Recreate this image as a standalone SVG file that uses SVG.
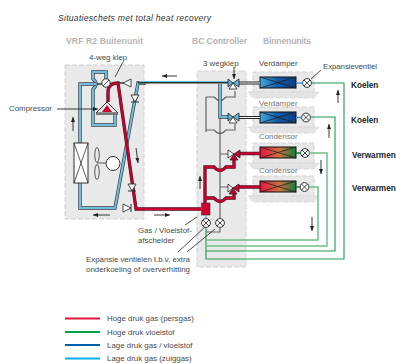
<svg xmlns="http://www.w3.org/2000/svg" width="396" height="363" viewBox="0 0 396 363">
<style>
text{font-family:"Liberation Sans","Noto Sans",sans-serif;font-size:7.9px;fill:#4a4a4a}
.h{font-weight:bold;font-size:8.6px;fill:#b4b4b4}
.b{font-weight:bold;font-size:8.2px;fill:#222}
.g{fill:#777}
.box{fill:#e9e9e9;stroke:#d2d2d2;stroke-width:1;stroke-dasharray:5 2}
.tr{fill:#e4e4e4;stroke:#d6d6d6;stroke-width:.8;stroke-dasharray:5 2}
.o{fill:none;stroke:#3a3f44;stroke-width:3.4}
.bl{fill:none;stroke:#72bcdc;stroke-width:2}
.ro{fill:none;stroke:#3a2028;stroke-width:3.3}
.rd{fill:none;stroke:#c4002f;stroke-width:2.3}
.gy{fill:none;stroke:#666;stroke-width:1.2}
.gr{fill:none;stroke:#1f9a55;stroke-width:1.1}
.gl{fill:none;stroke:#6fc08a;stroke-width:1.5}
.ld{fill:none;stroke:#222;stroke-width:.8}
.ar{fill:none;stroke:#222;stroke-width:.9;marker-end:url(#a)}
.x{fill:#fff;stroke:#333;stroke-width:1}
.cv{fill:#fff;stroke:#333;stroke-width:.9}
</style>
<defs>
<marker id="a" markerWidth="6" markerHeight="5" refX="5" refY="2" orient="auto" markerUnits="userSpaceOnUse"><path d="M0 0L5 2L0 4Z" fill="#222"/></marker>
<linearGradient id="cb"><stop offset="0" stop-color="#45a8e0"/><stop offset=".5" stop-color="#0f5aa5"/><stop offset="1" stop-color="#0b3f85"/></linearGradient>
<linearGradient id="cr"><stop offset="0" stop-color="#e8143c"/><stop offset=".55" stop-color="#c9733f"/><stop offset="1" stop-color="#127a3a"/></linearGradient>
<g id="ev"><circle r="4.4" class="x"/><path d="M-3-3L3 3M-3 3L3-3" stroke="#333" stroke-width=".9"/></g>
</defs>
<text x="58" y="21" style="font-style:italic;font-size:8.600px;fill:#333" textLength="153">Situatieschets met total heat recovery</text>
<text x="66" y="44" class="h" textLength="77">VRF R2 Buitenunit</text>
<text x="192" y="44" class="h" textLength="55">BC Controller</text>
<text x="263" y="44" class="h" textLength="48">Binnenunits</text>

<g id="outdoor-unit"><rect x="65" y="65" width="79" height="154" class="box"/></g>
<g id="bc-controller"><rect x="197" y="71" width="49" height="196" class="box"/></g>

<g id="indoor-1"><rect x="253" y="72" width="61" height="20" class="box"/><path d="M248 92H319L314 98H253Z" class="tr"/><rect x="260" y="77" width="36" height="11" fill="url(#cb)" stroke="#111" stroke-width="1"/><path d="M260 77L296 88M260 88L296 77" stroke="#222" stroke-width=".8"/><use href="#ev" x="307" y="83"/></g>
<g id="indoor-2"><rect x="253" y="107" width="61" height="20" class="box"/><path d="M248 127H319L314 133H253Z" class="tr"/><rect x="260" y="112" width="36" height="11" fill="url(#cb)" stroke="#111" stroke-width="1"/><path d="M260 112L296 123M260 123L296 112" stroke="#222" stroke-width=".8"/><use href="#ev" x="306" y="117.500"/></g>
<g id="indoor-3"><rect x="253" y="143" width="61" height="20" class="box"/><path d="M248 163H319L314 169H253Z" class="tr"/><rect x="260" y="147" width="36" height="11" fill="url(#cr)" stroke="#111" stroke-width="1"/><path d="M260 147L296 158M260 158L296 147" stroke="#222" stroke-width=".8"/><use href="#ev" x="305" y="153"/></g>
<g id="indoor-4"><rect x="253" y="176" width="61" height="20" class="box"/><path d="M248 196H319L314 202H253Z" class="tr"/><rect x="260" y="181" width="36" height="11" fill="url(#cr)" stroke="#111" stroke-width="1"/><path d="M260 181L296 192M260 192L296 181" stroke="#222" stroke-width=".8"/><use href="#ev" x="304.500" y="187"/></g>

<g id="connectors">
<path class="gr" d="M311 83H344V259H206V228"/>
<path class="gr" d="M310 117H335V251H206"/>
<path class="gl" d="M309 153H327V246H206"/>
<path class="gl" d="M309 187H318V240H206"/>
<path class="gy" d="M220 117V218M206 97V132M206 97H214Q220 104 226 97H235V91M206 130H214Q220 137 226 130H235V124M220 154H228M220 187H228M220 228V232H206"/>
<path class="o" d="M106 79V72H93V79Q99 84 93 89V125H115V113"/>
<path class="bl" d="M106 79V72H93V79Q99 84 93 89V125H115V113"/>
<path class="o" d="M96 84H80V208H115L138 83H146"/>
<path class="bl" d="M96 84H80V208H115L138 83H146"/>
<path d="M97 84H102" stroke="#333" stroke-width="1.500"/>
<path class="o" d="M220 84V117H228" stroke-width="3"/>
<path class="bl" d="M220 84V117H228" stroke-width="1.600"/>
<path d="M138 82.500H228" fill="none" stroke="#2a2f33" stroke-width="2.200"/>
<path d="M139 81.500H228" fill="none" stroke="#72bcdc" stroke-width="1"/>
<path class="ro" d="M108 102V92Q108 83 118 83L136 209H201"/>
<path class="rd" d="M108 102V92Q108 83 118 83L136 209H201"/>
<path d="M118 83H124" stroke="#333" stroke-width="1.500"/>
<path class="ro" d="M205 203V167H214Q220 174 226 167H234V158M205 198H214Q220 205 226 198H234V192"/>
<path class="rd" d="M205 203V167H214Q220 174 226 167H234V158M205 198H214Q220 205 226 198H234V192"/>
<path d="M239 83H260M239 117.500H260" stroke="#222" stroke-width="3" fill="none"/>
<path d="M239 83H260M239 117.500H260" stroke="#fff" stroke-width="1" fill="none"/>
<path class="ro" d="M239 153.500H260M239 187H260"/><path class="rd" d="M239 153.500H260M239 187H260"/>
<path d="M296 83H303M296 117.500H302" stroke="#4a90c8" stroke-width="1.500"/>
<path d="M296 153H301M296 187H300" stroke="#127a3a" stroke-width="1.500"/>
</g>

<g id="compressor"><path d="M107 102L118 113H96Z" fill="#e8e8e8" stroke="#333" stroke-width="1"/><path d="M107 105L112 112H102Z" fill="#c4002f"/><rect x="96" y="113" width="22" height="2" fill="#777"/></g>
<g id="four-way-valve"><circle cx="106" cy="83" r="4.200" fill="#fff" stroke="#333"/><path d="M103 86L109 80" stroke="#333" stroke-width=".8"/></g>
<g id="check-valves">
<path class="cv" d="M123 83L131 79V87Z"/>
<path class="cv" d="M131 95H139L135 102Z"/><path d="M131 102H139" stroke="#333"/>
<path class="cv" d="M128 184H136L132 191Z"/><path d="M128 191H136" stroke="#333"/>
<path class="cv" d="M131 208L123 204V212Z"/><path d="M131 204V212" stroke="#333"/>
</g>
<g id="fan-coil"><rect x="74" y="143" width="14" height="40" class="x"/><path d="M74 143L88 183M88 143L74 183" stroke="#333" stroke-width=".8"/><ellipse cx="97" cy="155" rx="2.200" ry="7.500" fill="none" stroke="#333" stroke-width=".8"/><ellipse cx="97" cy="172" rx="2.200" ry="7.500" fill="none" stroke="#333" stroke-width=".8"/><path d="M97 163H106" stroke="#333" stroke-width=".8"/><circle cx="113" cy="163.500" r="7" class="x"/></g>

<g id="three-way-valves">
<g id="tv1"><path d="M233 83L228 79V87Z M233 83L239 79V87Z" fill="#5fb4dc" stroke="#222" stroke-width=".8"/><path d="M233 83L229 89H237Z" fill="#fff" stroke="#222" stroke-width=".8"/></g>
<g id="tv2"><path d="M233 117L228 113V121Z M233 117L239 113V121Z" fill="#5fb4dc" stroke="#222" stroke-width=".8"/><path d="M233 117L229 123H237Z" fill="#fff" stroke="#222" stroke-width=".8"/></g>
<g id="tv3"><path d="M234 154L228 150V158Z" fill="#fff" stroke="#222" stroke-width=".8"/><path d="M234 154L240 150V158Z M234 154L230 160H238Z" fill="#d0002f" stroke="#222" stroke-width=".8"/></g>
<g id="tv4"><path d="M233 188L228 184V192Z" fill="#fff" stroke="#222" stroke-width=".8"/><path d="M233 188L239 184V192Z M233 188L229 194H237Z" fill="#d0002f" stroke="#222" stroke-width=".8"/></g>
</g>
<g id="separator"><rect x="201.500" y="203" width="8.500" height="12" fill="#d0002f" stroke="#333" stroke-width=".6"/><path d="M206 215V219" stroke="#4a90c8"/></g>
<g id="bc-valves"><use href="#ev" x="206" y="223"/><use href="#ev" x="220" y="223"/></g>

<g id="arrows">
<path class="ar" d="M73 131V117"/><path class="ar" d="M177 76H162"/><path class="ar" d="M110 215H93"/><path class="ar" d="M154 215H170"/><path class="ar" d="M136 148L138 163"/><path class="ar" d="M200 189V176"/><path class="ar" d="M338 103V90"/><path class="ar" d="M329 138V124"/><path class="ar" d="M321 160V174"/><path class="ar" d="M312 217V231"/>
<path class="ld" d="M123 62L115 77M321 70L311 79M197 217L185 225M205 227L178 252M215 229L187 252"/><path class="ar" d="M57 109H98"/><path class="ar" d="M234 67V79"/>
</g>

<text x="89" y="60">4-weg klep</text>
<text x="9" y="111">Compressor</text>
<text x="203" y="66">3 wegklep</text>
<text x="259" y="66">Verdamper</text>
<text x="259" y="106" class="g">Verdamper</text>
<text x="259" y="139" class="g">Condensor</text>
<text x="259" y="173" class="g">Condensor</text>
<text x="323" y="69" textLength="54">Expansieventiel</text>
<text x="351" y="88" class="b">Koelen</text>
<text x="351" y="123" class="b">Koelen</text>
<text x="352" y="158" class="b">Verwarmen</text>
<text x="352" y="191" class="b">Verwarmen</text>
<text x="138" y="233">Gas / Vloeistof-</text>
<text x="138" y="243">afscheider</text>
<text x="86" y="262" textLength="104">Expansie ventielen t.b.v. extra</text>
<text x="86" y="272" textLength="104">onderkoeling of oververhitting</text>

<g id="legend">
<path d="M65 318.500H100" stroke="#e5173f" stroke-width="1.800"/><path d="M65 332H100" stroke="#00a14b" stroke-width="1.800"/><path d="M65 345H100" stroke="#0060a9" stroke-width="1.800"/><path d="M65 358.500H100" stroke="#00aeef" stroke-width="1.800"/>
<text x="107" y="321">Hoge druk gas (persgas)</text>
<text x="107" y="335">Hoge druk vloeistof</text>
<text x="107" y="348">Lage druk gas / vloeistof</text>
<text x="107" y="361">Lage druk gas (zuiggas)</text>
</g>
</svg>
